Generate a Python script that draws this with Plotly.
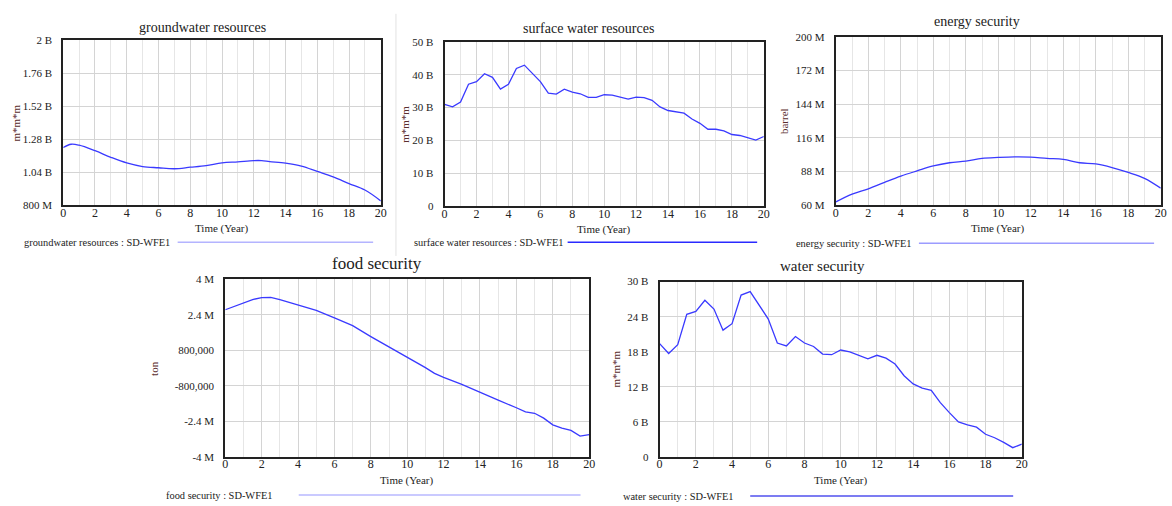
import plotly.graph_objects as go

W, H = 1172, 506

# ---------------- data ----------------
t_gw = [0, 0.5, 1, 2, 3, 4, 5, 6, 7, 8, 9, 10, 11, 12, 12.5, 13, 14, 15, 16, 17, 18, 19, 20]
groundwater = [1219e6, 1243e6, 1236e6, 1196e6, 1148e6, 1107e6, 1081e6, 1072e6, 1065e6, 1076e6,
               1088e6, 1107e6, 1115e6, 1124e6, 1124e6, 1117e6, 1105e6, 1084e6, 1045e6, 1005e6,
               957e6, 910e6, 831e6]

t_half = [i * 0.5 for i in range(41)]
surface_water = [30.95, 30.2, 31.7, 37.1, 37.9, 40.3, 39.2, 35.6, 37.1, 41.9, 42.9, 40.4, 37.9,
                 34.4, 34.1, 35.6, 34.7, 34.2, 33.1, 33.1, 33.9, 33.8, 33.1, 32.6, 33.2, 33.0,
                 32.2, 30.2, 29.1, 28.8, 28.3, 26.5, 25.2, 23.4, 23.4, 22.9, 21.8, 21.5, 20.9,
                 20.1, 21.2]
surface_water = [v * 1e9 for v in surface_water]

t_en = list(range(21))
energy = [62.7, 69.2, 73.6, 79.0, 84.2, 88.5, 92.6, 95.3, 96.7, 98.9, 99.7, 100.2, 100.0, 98.9,
          98.1, 95.3, 94.3, 91.3, 87.2, 82.3, 74.1]
energy = [v * 1e6 for v in energy]

t_food = [0, 0.5, 1, 1.5, 2, 2.5, 3, 4, 5, 6, 7, 8, 9, 10, 11, 11.5, 12, 13, 14, 15, 16, 16.5,
          17, 17.5, 18, 18.5, 19, 19.5, 20]
food = [2.63, 2.79, 2.93, 3.09, 3.18, 3.19, 3.09, 2.85, 2.60, 2.26, 1.91, 1.42, 0.95, 0.51, 0.02,
        -0.24, -0.42, -0.74, -1.11, -1.45, -1.79, -1.98, -2.04, -2.26, -2.56, -2.71, -2.81,
        -3.07, -3.00]
food = [v * 1e6 for v in food]

water_sec = [19.4, 17.7, 19.2, 24.4, 24.9, 26.8, 25.3, 21.7, 22.8, 27.7, 28.3, 25.9, 23.6, 19.5,
             19.0, 20.6, 19.5, 18.9, 17.6, 17.5, 18.3, 18.0, 17.4, 16.8, 17.4, 16.9, 15.9, 13.9,
             12.5, 11.8, 11.4, 9.3, 7.6, 6.0, 5.5, 5.1, 3.9, 3.3, 2.5, 1.6, 2.2]
water_sec = [v * 1e9 for v in water_sec]

gw_ticks = [800e6, 1040e6, 1280e6, 1520e6, 1760e6, 2000e6]
gw_labels = ["800 M", "1.04 B", "1.28 B", "1.52 B", "1.76 B", "2 B"]
sw_ticks = [0, 10e9, 20e9, 30e9, 40e9, 50e9]
sw_labels = ["0", "10 B", "20 B", "30 B", "40 B", "50 B"]
en_ticks = [60e6, 88e6, 116e6, 144e6, 172e6, 200e6]
en_labels = ["60 M", "88 M", "116 M", "144 M", "172 M", "200 M"]
fd_ticks = [-4e6, -2.4e6, -0.8e6, 0.8e6, 2.4e6, 4e6]
fd_labels = ["-4 M", "-2.4 M", "-800,000", "800,000", "2.4 M", "4 M"]
ws_ticks = [0, 6e9, 12e9, 18e9, 24e9, 30e9]
ws_labels = ["0", "6 B", "12 B", "18 B", "24 B", "30 B"]

x_ticks = list(range(0, 21, 2))

# ---------------- layout constants (pixels) ----------------
# leg = (text left, line start, line end, y)
panels = [
    dict(name="groundwater resources", t=t_gw, y=groundwater, ticks=gw_ticks, labels=gw_labels,
         unit="m*m*m", box=(60.7, 380.7, 35, 204), title_xy=(201, 22), tsize=14,
         ytitle_x=13, leg=(19, 176, 373, 242), legcol="#b4b4ff", shape="spline"),
    dict(name="surface water resources", t=t_half, y=surface_water, ticks=sw_ticks, labels=sw_labels,
         unit="m*m*m", box=(445, 766.7, 36.7, 205), title_xy=(590, 23), tsize=14,
         ytitle_x=405, leg=(412, 569, 760, 242), legcol="#2a2aff", shape="linear"),
    dict(name="energy security", t=t_en, y=energy, ticks=en_ticks, labels=en_labels,
         unit="barrel", box=(839.3, 1166.7, 31.7, 204), title_xy=(982, 16), tsize=14,
         ytitle_x=787, leg=(797, 923, 1160, 243), legcol="#9c9cff", shape="spline"),
    dict(name="food security", t=t_food, y=food, ticks=fd_ticks, labels=fd_labels,
         unit="ton", box=(224, 590.7, 280, 461.7), title_xy=(377, 264), tsize=17,
         ytitle_x=152, leg=(162, 298, 582, 501), legcol="#b8b8ff", shape="linear"),
    dict(name="water security", t=t_half, y=water_sec, ticks=ws_ticks, labels=ws_labels,
         unit="m*m*m", box=(661.7, 1026.7, 282.3, 462), title_xy=(826, 266), tsize=15,
         ytitle_x=618, leg=(623, 753, 1018, 502), legcol="#5050ee", shape="linear"),
]

SERIF = "Liberation Serif, Times New Roman, serif"
fig = go.Figure()
annotations = []
shapes = []
layout = dict(width=W, height=H, margin=dict(l=0, r=0, t=0, b=0),
              paper_bgcolor="white", plot_bgcolor="white", showlegend=False,
              font=dict(family=SERIF, color="#222222", size=11))

for i, p in enumerate(panels, start=1):
    xs = "" if i == 1 else str(i)
    x0, x1, y0, y1 = p["box"]
    fig.add_trace(go.Scatter(x=p["t"], y=p["y"], mode="lines",
                             line=dict(color="#3a3aff", width=1.3, shape=p["shape"]),
                             xaxis="x" + xs, yaxis="y" + xs, name=p["name"]))
    layout["xaxis" + xs] = dict(
        domain=[x0 / W, x1 / W], anchor="y" + xs, range=[0, 20],
        tickvals=x_ticks, ticktext=[str(v) for v in x_ticks],
        showgrid=True, gridcolor="#d4d4d4", gridwidth=1,
        minor=dict(dtick=1, tick0=0, showgrid=True, gridcolor="#e6e6e6", gridwidth=1),
        showline=True, mirror=True, linecolor="#222222", linewidth=2,
        zeroline=False, ticks="", ticklabelstandoff=-5,
        tickfont=dict(family=SERIF, size=12, color="#222222"),
        fixedrange=True)
    layout["yaxis" + xs] = dict(
        domain=[1 - y1 / H, 1 - y0 / H], anchor="x" + xs,
        range=[p["ticks"][0], p["ticks"][-1]],
        tickvals=p["ticks"], ticktext=p["labels"],
        showgrid=True, gridcolor="#d4d4d4", gridwidth=1,
        showline=True, mirror=True, linecolor="#222222", linewidth=2,
        zeroline=False, ticks="", ticklabelstandoff=7,
        tickfont=dict(family=SERIF, size=11, color="#222222"), fixedrange=True)

    # title
    tx, ty = p["title_xy"]
    annotations.append(dict(text=p["name"], x=tx / W, y=1 - ty / H, xref="paper", yref="paper",
                            showarrow=False, xanchor="center", yanchor="middle",
                            font=dict(family=SERIF, size=p["tsize"], color="#222222")))
    # x-axis title
    annotations.append(dict(text="Time (Year)", x=(x0 + x1) / 2 / W, y=1 - (y1 + 24) / H,
                            xref="paper", yref="paper", showarrow=False,
                            xanchor="center", yanchor="middle",
                            font=dict(family=SERIF, size=11, color="#222222")))
    # y-axis title
    annotations.append(dict(text=p["unit"], x=p["ytitle_x"] / W, y=1 - (y0 + y1) / 2 / H,
                            xref="paper", yref="paper", showarrow=False, textangle=-90,
                            xanchor="center", yanchor="middle",
                            font=dict(family=SERIF, size=11, color="#5a2e2e")))
    # legend text + line
    lx0, lx1, lx2, ly = p["leg"]
    annotations.append(dict(text=p["name"] + " : SD-WFE1", x=lx0 / W, y=1 - ly / H,
                            xref="paper", yref="paper", showarrow=False,
                            xanchor="left", yanchor="middle",
                            font=dict(family=SERIF, size=10.4, color="#222222")))
    shapes.append(dict(type="line", xref="paper", yref="paper",
                       x0=lx1 / W, x1=lx2 / W, y0=1 - ly / H, y1=1 - ly / H,
                       line=dict(color=p["legcol"], width=1.5)))

# separator between first two panels
shapes.append(dict(type="line", xref="paper", yref="paper", x0=396 / W, x1=396 / W,
                   y0=1 - 8 / H, y1=1 - 256 / H, line=dict(color="#e2e2e2", width=1)))

layout["annotations"] = annotations
layout["shapes"] = shapes
fig.update_layout(**layout)
fig.write_html("out.html", config={"responsive": False, "displayModeBar": False},
               post_script="document.body.style.margin='0';document.body.style.overflow='hidden';")
